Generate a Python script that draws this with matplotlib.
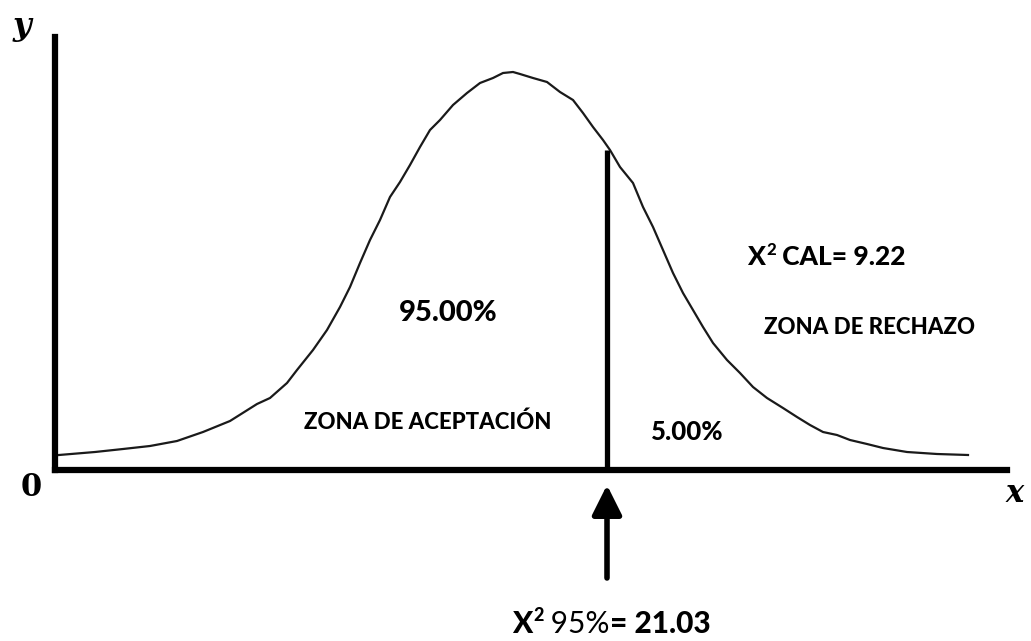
import matplotlib.pyplot as plt

# curve (distance from origin, height above x axis)
curve_x = [4, 40, 68, 95, 122, 148, 175, 202, 215, 232, 242, 258, 272, 285, 295, 305,
           315, 325, 335, 345, 355, 365, 375, 385, 398, 412, 425, 438, 448, 458, 465,
           478, 492, 505, 518, 528, 538, 548, 555, 565, 578, 588, 598, 608, 618, 628,
           638, 648, 658, 672, 685, 698, 712, 728, 742, 755, 768, 782, 795, 812, 828,
           852, 882, 913]
curve_y = [15, 18, 21, 24, 29, 38, 49, 66, 72, 87, 100, 120, 140, 163, 183, 207,
           230, 250, 273, 288, 305, 323, 340, 350, 365, 377, 387, 392, 397, 398, 396,
           392, 388, 378, 370, 357, 343, 330, 320, 303, 287, 263, 243, 220, 197, 177,
           160, 143, 127, 110, 97, 83, 72, 62, 53, 45, 38, 35, 30, 26, 22,
           18, 16, 15]

crit_x = 552      # position of the critical value
crit_top = 320    # height where the vertical line stops

lbl_cal = ["X", "2", " CAL= 9.22"]
lbl_crit = ["X", "2", " 95%", "= 21.03"]
lbl_acc = "ZONA DE ACEPTACIÓN"
lbl_rej = "ZONA DE RECHAZO"
pct_acc = "95.00%"
pct_rej = "5.00%"


def main():
    fig = plt.figure(figsize=(10.31, 6.41), dpi=100)
    W, H = 1031, 641
    ax = fig.add_axes([55 / W, (H - 470) / H, (1007 - 55) / W, (470 - 37) / H])
    ax.set_xlim(0, 952)
    ax.set_ylim(0, 433)
    for s in ['top', 'right']:
        ax.spines[s].set_visible(False)
    for s in ['left', 'bottom']:
        ax.spines[s].set_linewidth(4.5)
        ax.spines[s].set_color('black')
    ax.set_xticks([])
    ax.set_yticks([])

    # the bell curve
    ax.plot(curve_x, curve_y, color='#1a1a1a', lw=1.6, solid_joinstyle='miter')

    # critical value line
    ax.plot([crit_x, crit_x], [0, crit_top], color='black', lw=3.8, solid_capstyle='butt')

    # arrow under the axis
    ax.annotate('', xy=(crit_x, -15), xytext=(crit_x, -108),
                arrowprops=dict(arrowstyle='-|>,head_length=0.9,head_width=0.45',
                                lw=4, color='black', mutation_scale=20,
                                shrinkA=0, shrinkB=0),
                annotation_clip=False)

    font = 'Lato'
    bw = 900
    # axis letters
    fig.text(22 / W, 1 - 27 / H, 'y', fontsize=23, family='DejaVu Serif',
             weight='bold', style='italic', ha='center', va='center')
    fig.text(31 / W, 1 - 487 / H, '0', fontsize=22, family='DejaVu Serif',
             weight='bold', ha='center', va='center')
    fig.text(1015 / W, 1 - 493 / H, 'x', fontsize=22, family='DejaVu Serif',
             weight='bold', style='italic', ha='center', va='center')

    # region labels
    ax.text(448 - 55, 470 - 313, pct_acc, fontsize=21, family=font, weight=bw,
            ha='center', va='center')
    ax.text(428 - 55, 470 - 422, lbl_acc, fontsize=16, family=font, weight=bw,
            ha='center', va='center')
    ax.text(687 - 55, 470 - 432, pct_rej, fontsize=18.5, family=font, weight=bw,
            ha='center', va='center')
    ax.text(869 - 55, 470 - 327, lbl_rej, fontsize=16, family=font, weight=bw,
            ha='center', va='center')

    # X^2 CAL= 9.22
    t = ax.text(747 - 55, 470 - 257, lbl_cal[0], fontsize=19, family=font, weight=bw,
                ha='left', va='center', clip_on=False)
    ax.annotate(lbl_cal[1], xy=(1, 1), xycoords=t, xytext=(1, 2),
                textcoords='offset points', fontsize=12, family=font,
                weight=bw, ha='left', va='top')
    ax.annotate(lbl_cal[2], xy=(1, 0), xycoords=t, xytext=(8, 0),
                textcoords='offset points', fontsize=19, family=font,
                weight=bw, ha='left', va='bottom')

    # X^2 95%= 21.03
    t = ax.text(512 - 55, 470 - 624, lbl_crit[0], fontsize=21.5, family=font, weight=bw,
                ha='left', va='center', clip_on=False)
    ax.annotate(lbl_crit[1], xy=(1, 1), xycoords=t, xytext=(1, 2),
                textcoords='offset points', fontsize=13, family=font,
                weight=bw, ha='left', va='top', annotation_clip=False)
    p = ax.annotate(lbl_crit[2], xy=(1, 0), xycoords=t, xytext=(8, 0),
                    textcoords='offset points', fontsize=21.5, family=font,
                    ha='left', va='bottom', annotation_clip=False)
    ax.annotate(lbl_crit[3], xy=(1, 0), xycoords=p, xytext=(0, 0),
                textcoords='offset points', fontsize=21.5, family=font,
                weight=bw, ha='left', va='bottom', annotation_clip=False)

    fig.savefig('out.png', dpi=100)


if __name__ == '__main__':
    main()
